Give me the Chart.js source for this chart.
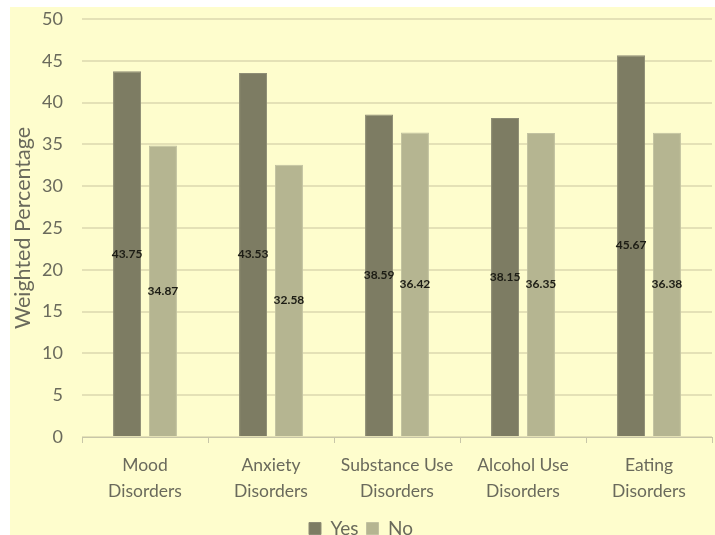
<!DOCTYPE html>
<html>
<head>
<meta charset="utf-8">
<script src="https://cdn.jsdelivr.net/npm/chart.js@4/dist/chart.umd.min.js"></script>
<style>
  html, body { margin: 0; padding: 0; background: #ffffff; overflow: hidden; }
  #frame {
    position: absolute; left: 10px; top: 7px;
    width: 705px; height: 528px;
    background: #fefdcd;
  }
  canvas { display: block; }
</style>
</head>
<body>
<div id="frame"><canvas id="chart" width="705" height="528"></canvas></div>
<script>
// Disorder categories (two-line axis labels)
const categories = [
  ["Mood", "Disorders"],
  ["Anxiety", "Disorders"],
  ["Substance Use", "Disorders"],
  ["Alcohol Use", "Disorders"],
  ["Eating", "Disorders"]
];
// Weighted percentage by group
const yesValues = [43.75, 43.53, 38.59, 38.15, 45.67];
const noValues  = [34.87, 32.58, 36.42, 36.35, 36.38];
const yTicks = [0, 5, 10, 15, 20, 25, 30, 35, 40, 45, 50];

const textColor = '#6a6a5c';
const fontFamily = 'Lato, "Open Sans", sans-serif';

// Writes each bar's value at the middle of the bar
const valueLabels = {
  id: 'valueLabels',
  afterDatasetsDraw(chart) {
    const ctx = chart.ctx;
    ctx.save();
    ctx.font = 'bold 12px ' + fontFamily;
    ctx.fillStyle = '#1c1c14';
    ctx.textAlign = 'center';
    ctx.textBaseline = 'middle';
    chart.data.datasets.forEach((ds, i) => {
      chart.getDatasetMeta(i).data.forEach((bar, j) => {
        const midY = (bar.y + bar.base) / 2;
        ctx.fillText(ds.data[j].toFixed(2), bar.x, midY);
      });
    });
    ctx.restore();
  }
};

new Chart(document.getElementById('chart'), {
  type: 'bar',
  data: {
    labels: categories,
    datasets: [
      { label: 'Yes', data: yesValues, backgroundColor: '#7d7c63',
        borderColor: '#8e8d75', borderWidth: 1,
        categoryPercentage: 0.57, barPercentage: 0.78 },
      { label: 'No', data: noValues, backgroundColor: '#b5b591',
        borderColor: '#c2c2a0', borderWidth: 1,
        categoryPercentage: 0.57, barPercentage: 0.78 }
    ]
  },
  options: {
    responsive: false,
    animation: false,
    layout: { padding: { top: 12, right: 3, left: 0, bottom: -13 } },
    plugins: {
      legend: {
        position: 'bottom',
        labels: {
          color: textColor,
          font: { family: fontFamily, size: 19 },
          boxWidth: 12, boxHeight: 12,
          padding: 8
        }
      },
      tooltip: { enabled: false }
    },
    scales: {
      x: {
        grid: { drawOnChartArea: false, drawTicks: true, tickLength: 6, color: '#c8c6a8', lineWidth: 1 },
        border: { display: true, color: '#c8c6a8', width: 1 },
        ticks: {
          color: textColor,
          font: { family: fontFamily, size: 17.5, lineHeight: 1.45 },
          maxRotation: 0, autoSkip: false, padding: 10
        },
        afterFit(scale) { scale.height = 74; }
      },
      y: {
        min: 0, max: 50,
        afterBuildTicks(scale) { scale.ticks = yTicks.map(v => ({ value: v })); },
        grid: { color: '#e4e1b6', lineWidth: 2, drawTicks: false },
        border: { display: false },
        ticks: {
          color: textColor,
          font: { family: fontFamily, size: 18 },
          padding: 19
        },
        title: {
          display: true,
          text: 'Weighted Percentage',
          color: textColor,
          font: { family: fontFamily, size: 21.5 },
          padding: { top: 0, bottom: 0 }
        },
        afterFit(scale) {
          scale.width = 72;
          scale.paddingTop = 0;
          scale.paddingBottom = 0;
        }
      }
    }
  },
  plugins: [valueLabels]
});
</script>
</body>
</html>
